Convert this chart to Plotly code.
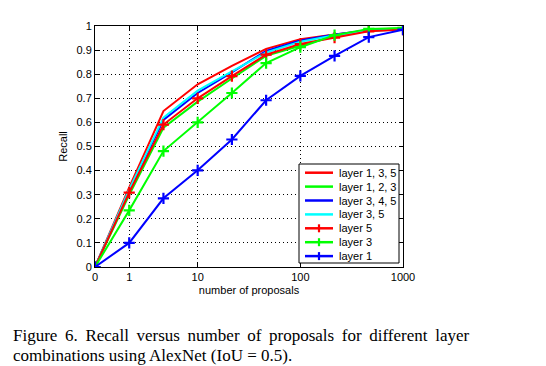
import plotly.graph_objects as go

# x positions are evenly spaced steps of the proposal count
x_index = [0, 1, 2, 3, 4, 5, 6, 7, 8, 9]
tick_positions = [0, 1, 3, 6, 9]
tick_labels = ["0", "1", "10", "100", "1000"]

layer_135 = [0, 0.330, 0.647, 0.758, 0.835, 0.905, 0.945, 0.965, 0.980, 0.985]
layer_123 = [0, 0.300, 0.578, 0.686, 0.782, 0.876, 0.918, 0.958, 0.985, 0.990]
layer_345 = [0, 0.318, 0.610, 0.722, 0.808, 0.897, 0.940, 0.965, 0.982, 0.985]
layer_35 = [0, 0.322, 0.620, 0.732, 0.812, 0.890, 0.935, 0.962, 0.980, 0.985]
layer_5 = [0, 0.309, 0.591, 0.700, 0.792, 0.881, 0.925, 0.952, 0.978, 0.985]
layer_3 = [0, 0.235, 0.481, 0.600, 0.722, 0.846, 0.912, 0.962, 0.988, 0.992]
layer_1 = [0, 0.100, 0.285, 0.401, 0.529, 0.692, 0.793, 0.876, 0.954, 0.985]

series_names = ["layer 1, 3, 5", "layer 1, 2, 3", "layer 3, 4, 5", "layer 3, 5",
                "layer 5", "layer 3", "layer 1"]
series_values = [layer_135, layer_123, layer_345, layer_35, layer_5, layer_3, layer_1]
series_colors = ["#ff0000", "#00ff00", "#0000ff", "#00ffff", "#ff0000", "#00ff00", "#0000ff"]
series_markers = [False, False, False, False, True, True, True]

caption_line1 = "Figure 6. Recall versus number of proposals for different layer"
caption_line2 = "combinations using AlexNet (IoU = 0.5)."

# figure geometry (pixels)
W, H = 538, 358
L, T, PW, PH = 87, 18, 308, 241
R, B = W - L - PW, H - T - PH


def px(x):
    return (x - L) / PW


def py(y):
    return (T + PH - y) / PH


fig = go.Figure()
for name, vals, color, mk in zip(series_names, series_values, series_colors, series_markers):
    fig.add_trace(go.Scatter(
        x=x_index, y=vals, name=name, showlegend=False,
        mode="lines+markers" if mk else "lines",
        line=dict(color=color, width=2),
        marker=dict(symbol="cross-thin", size=8,
                    line=dict(color=color, width=2.2)) if mk else None,
    ))

axis_font = dict(family="Liberation Sans, Arial, sans-serif", size=11, color="black")

fig.update_layout(
    width=W, height=H,
    margin=dict(l=L, r=R, t=T, b=B),
    paper_bgcolor="white", plot_bgcolor="white",
    font=axis_font,
    showlegend=False,
    xaxis=dict(
        range=[0, 9], tickvals=tick_positions, ticktext=tick_labels,
        showgrid=True, gridcolor="black", griddash="1px,3px", gridwidth=1,
        showline=True, linecolor="black", linewidth=1, mirror="ticks",
        ticks="inside", ticklen=4, tickcolor="black",
        zeroline=False, tickfont=axis_font,
        title=dict(text="number of proposals", font=axis_font, standoff=4),
    ),
    yaxis=dict(
        range=[0, 1], dtick=0.1, tick0=0,
        showgrid=True, gridcolor="black", griddash="1px,3px", gridwidth=1,
        showline=True, linecolor="black", linewidth=1, mirror="ticks",
        ticks="inside", ticklen=4, tickcolor="black",
        zeroline=False, tickfont=axis_font,
        title=dict(text="Recall", font=axis_font, standoff=6),
    ),
)

# custom legend box (compact, like MATLAB)
shapes = [dict(type="rect", xref="paper", yref="paper",
               x0=px(291), x1=px(391), y0=py(255), y1=py(156),
               fillcolor="white", line=dict(color="black", width=1), layer="above")]
annotations = []
for i, (name, color, mk) in enumerate(zip(series_names, series_colors, series_markers)):
    yc = 164.7 + 13.9 * i
    shapes.append(dict(type="line", xref="paper", yref="paper",
                       x0=px(297), x1=px(325), y0=py(yc), y1=py(yc),
                       line=dict(color=color, width=2.5), layer="above"))
    if mk:
        shapes.append(dict(type="line", xref="paper", yref="paper",
                           x0=px(311), x1=px(311), y0=py(yc - 4), y1=py(yc + 4),
                           line=dict(color=color, width=2.2), layer="above"))
    annotations.append(dict(text=name, xref="paper", yref="paper",
                            x=px(328.5), y=py(yc), xanchor="left", yanchor="middle",
                            showarrow=False, font=axis_font))

cap_font = dict(family="Liberation Serif, Times New Roman, serif", size=17, color="black")
annotations.append(dict(
    text=caption_line1.replace(" ", " \u2009"),
    xref="paper", yref="paper", x=px(3), y=py(336 - 8),
    xanchor="left", yanchor="middle", showarrow=False, font=cap_font,
))
annotations.append(dict(
    text=caption_line2,
    xref="paper", yref="paper", x=px(3), y=py(355.5 - 8),
    xanchor="left", yanchor="middle", showarrow=False, font=cap_font,
))

fig.update_layout(shapes=shapes, annotations=annotations)

fig.write_html("out.html")
